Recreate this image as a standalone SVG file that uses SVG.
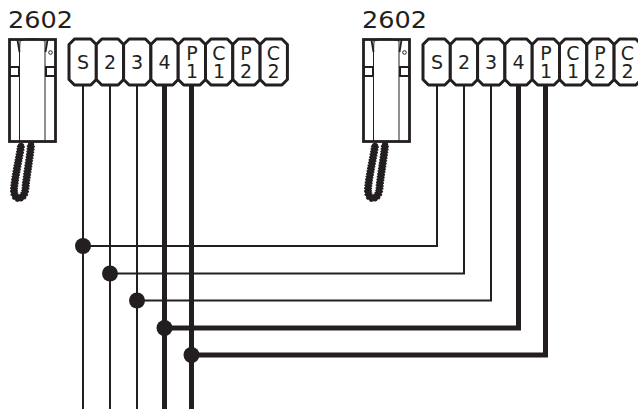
<svg xmlns="http://www.w3.org/2000/svg" xmlns:xlink="http://www.w3.org/1999/xlink" width="638" height="409" viewBox="0 0 638 409">
<style>
text{font-family:"DejaVu Sans",sans-serif;fill:#231f20;font-weight:400}
.t{font-size:19px;text-anchor:middle}
.h{font-size:23px}
.b{fill:#fff;stroke:#231f20;stroke-width:3;stroke-linejoin:round}
.p{fill:#fff;stroke:#231f20;stroke-width:2.800}
.l{fill:none;stroke:#231f20;stroke-width:1}
.s{fill:#fff;stroke:#231f20;stroke-width:2}
.w{fill:none;stroke:#231f20;stroke-width:2}
.k{fill:none;stroke:#231f20;stroke-width:5}
.d{fill:#231f20}
.c{fill:none;stroke:#231f20;stroke-width:6.500;stroke-linecap:round}
.e{fill:none;stroke:#231f20;stroke-width:8;stroke-dasharray:1.600 1.200}
</style>
<defs>
<path id="box" class="b" d="M5.500 0H21.800L27.300 5.500V40.500L21.800 46H5.500L0 40.500V5.500Z"/>
<g id="phone">
<path class="c" d="M21 146C19 160 14.500 178 14 190C14 196 16.500 198.500 19.500 198C23 197.500 25 194 25.500 188C26.500 175 30 158 31 145"/>
<path class="e" d="M21 146C19 160 14.500 178 14 190C14 196 16.500 198.500 19.500 198C23 197.500 25 194 25.500 188C26.500 175 30 158 31 145"/>
<rect class="p" x="9.500" y="39.500" width="46" height="102"/>
<path class="l" d="M19.500 141V52L20 41Q32 36.500 45 41V141"/>
<path d="M17.500 40L19.500 52M47.500 40L45.500 52" stroke="#231f20" stroke-width="1.800" fill="none"/>
<rect class="s" x="10" y="67" width="9" height="9"/>
<rect class="s" x="46" y="67" width="9" height="9"/>
<circle class="l" cx="50.500" cy="52.500" r="1.800" stroke-width="1.300"/>
</g>
</defs>
<g id="connectors">
<path class="w" d="M83 84V409M110 84V409M137 84V409"/>
<path class="k" d="M164.500 84V409M191.500 84V409"/>
<path class="w" d="M83 246H437V84M110 273.500H464V84M137 300.500H491V84"/>
<path class="k" d="M164.500 328H518.500V84M191.500 355H545.500V84"/>
<circle class="d" cx="83" cy="246" r="8"/>
<circle class="d" cx="110" cy="273.500" r="8"/>
<circle class="d" cx="137" cy="300.500" r="8"/>
<circle class="d" cx="164.500" cy="328" r="8"/>
<circle class="d" cx="191.500" cy="355" r="8"/>
</g>
<g id="unit-left">
<text class="h" x="8" y="28" textLength="65" lengthAdjust="spacingAndGlyphs">2602</text>
<use id="phone-left" xlink:href="#phone"/>
<g id="terminals-left">
<use xlink:href="#box" x="69" y="39"/><use xlink:href="#box" x="96.300" y="39"/><use xlink:href="#box" x="123.600" y="39"/><use xlink:href="#box" x="150.900" y="39"/><use xlink:href="#box" x="178.200" y="39"/><use xlink:href="#box" x="205.500" y="39"/><use xlink:href="#box" x="232.800" y="39"/><use xlink:href="#box" x="260.100" y="39"/>
<text class="t" x="83" y="69">S</text><text class="t" x="110" y="69">2</text><text class="t" x="137" y="69">3</text><text class="t" x="164.500" y="69">4</text>
<text class="t"><tspan x="192" y="59.500">P</tspan><tspan x="192" y="77.500">1</tspan></text>
<text class="t"><tspan x="219" y="59.500">C</tspan><tspan x="219" y="77.500">1</tspan></text>
<text class="t"><tspan x="246" y="59.500">P</tspan><tspan x="246" y="77.500">2</tspan></text>
<text class="t"><tspan x="273.500" y="59.500">C</tspan><tspan x="273.500" y="77.500">2</tspan></text>
</g>
</g>
<g id="unit-right">
<text class="h" x="362" y="28" textLength="65" lengthAdjust="spacingAndGlyphs">2602</text>
<use id="phone-right" xlink:href="#phone" x="354"/>
<g id="terminals-right">
<use xlink:href="#box" x="423" y="39"/><use xlink:href="#box" x="450.300" y="39"/><use xlink:href="#box" x="477.600" y="39"/><use xlink:href="#box" x="504.900" y="39"/><use xlink:href="#box" x="532.200" y="39"/><use xlink:href="#box" x="559.500" y="39"/><use xlink:href="#box" x="586.800" y="39"/><use xlink:href="#box" x="614.100" y="39"/>
<text class="t" x="437" y="69">S</text><text class="t" x="464" y="69">2</text><text class="t" x="491" y="69">3</text><text class="t" x="518.500" y="69">4</text>
<text class="t"><tspan x="546" y="59.500">P</tspan><tspan x="546" y="77.500">1</tspan></text>
<text class="t"><tspan x="573" y="59.500">C</tspan><tspan x="573" y="77.500">1</tspan></text>
<text class="t"><tspan x="600" y="59.500">P</tspan><tspan x="600" y="77.500">2</tspan></text>
<text class="t"><tspan x="627.500" y="59.500">C</tspan><tspan x="627.500" y="77.500">2</tspan></text>
</g>
</g>
</svg>
